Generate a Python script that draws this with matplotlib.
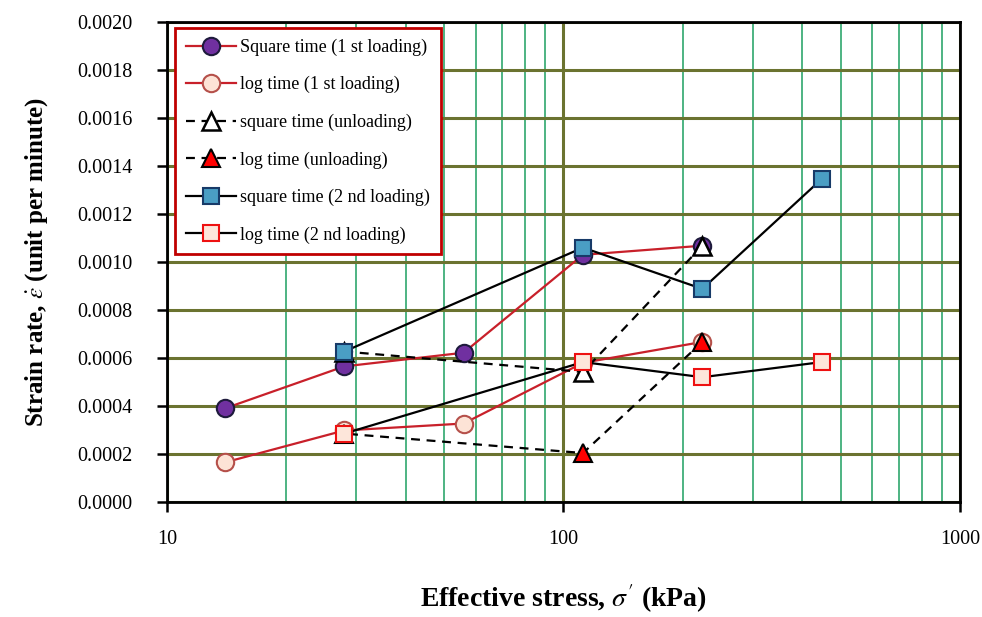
import matplotlib
matplotlib.use("Agg")
import matplotlib.pyplot as plt
from matplotlib.ticker import FixedLocator, NullFormatter, FormatStrFormatter

plt.rcParams["font.family"] = ["Liberation Serif", "DejaVu Serif"]
plt.rcParams["mathtext.fontset"] = "stix"

# effective stress (kPa) and strain rate (unit per minute)
stress_1st = [14, 28, 56, 112, 224]
sq_1st = [0.00039, 0.000565, 0.000622, 0.00103, 0.001068]
log_1st = [0.000165, 0.000298, 0.000327, 0.00058, 0.000667]

stress_unload = [224, 112, 28]
sq_unload = [0.001068, 0.000542, 0.000627]
log_unload = [0.000667, 0.000204, 0.000285]

stress_2nd = [28, 112, 224, 448]
sq_2nd = [0.000627, 0.00106, 0.000888, 0.001346]
log_2nd = [0.000285, 0.000583, 0.00052, 0.000583]

RED = "#c8202a"
OLIVE = "#6b7330"
GREEN = "#3fae78"

fig = plt.figure(figsize=(9.82, 6.17), dpi=100)
ax = fig.add_axes([0.170, 0.1864, 0.8076, 0.7779])

ms = 12.5
ax.plot(stress_1st, sq_1st, color=RED, lw=1.6, marker="o", ms=ms,
        mfc="#7030a0", mec="#1e1a3c", mew=1.5, label="Square time (1 st loading)", zorder=3)
ax.plot(stress_1st, log_1st, color=RED, lw=1.6, marker="o", ms=ms,
        mfc="#fde3d6", mec="#b5504a", mew=1.5, label="log time (1 st loading)", zorder=3)
ax.plot(stress_unload, sq_unload, color="black", lw=1.6, ls=(0, (4, 3)), marker="^", ms=ms,
        mfc="white", mec="black", mew=1.8, label="square time (unloading)", zorder=4)
ax.plot(stress_unload, log_unload, color="black", lw=1.6, ls=(0, (4, 3)), marker="^", ms=ms,
        mfc="#ff0000", mec="black", mew=1.5, label="log time (unloading)", zorder=4)
ax.plot(stress_2nd, sq_2nd, color="black", lw=1.6, marker="s", ms=11,
        mfc="#4a9ec4", mec="#173a68", mew=1.5, label="square time (2 nd loading)", zorder=5)
ax.plot(stress_2nd, log_2nd, color="black", lw=1.6, marker="s", ms=11,
        mfc="#fde6da", mec="#ee1111", mew=1.5, label="log time (2 nd loading)", zorder=5)

ax.set_xscale("log")
ax.set_xlim(10, 1000)
ax.set_ylim(0, 0.002)
ax.yaxis.set_major_locator(FixedLocator([i * 0.0002 for i in range(11)]))
ax.yaxis.set_major_formatter(FormatStrFormatter("%.4f"))
ax.xaxis.set_major_locator(FixedLocator([10, 100, 1000]))
ax.xaxis.set_major_formatter(FormatStrFormatter("%d"))
ax.xaxis.set_minor_locator(FixedLocator([k * d for d in (10, 100) for k in range(2, 10)]))
ax.xaxis.set_minor_formatter(NullFormatter())

ax.grid(axis="y", which="major", color=OLIVE, lw=2.2, zorder=0)
ax.grid(axis="x", which="major", color=OLIVE, lw=2.2, zorder=0)
ax.grid(axis="x", which="minor", color=GREEN, lw=1.3, zorder=0)
ax.set_axisbelow(True)

ax.tick_params(axis="both", which="major", direction="out", length=7, width=1.8,
               labelsize=14.5, color="black")
ax.tick_params(axis="x", which="major", pad=13)
ax.tick_params(axis="y", which="major", pad=18)
ax.tick_params(axis="x", which="minor", length=0)
for sp in ax.spines.values():
    sp.set_linewidth(2)
    sp.set_color("black")

ax.set_xlabel(r"Effective stress, $\sigma'$ (kPa)", fontsize=20, fontweight="bold")
ax.xaxis.set_label_coords(0.5, -0.168)
ax.set_ylabel(r"Strain rate, $\dot{\varepsilon}$ (unit per minute)", fontsize=18, fontweight="bold")
ax.yaxis.set_label_coords(-0.148, 0.5)

leg = ax.legend(loc="upper left", bbox_to_anchor=(0.010, 0.988), fontsize=13,
                frameon=True, fancybox=False, edgecolor="#c00000", handlelength=2.8,
                labelspacing=1.12, borderpad=0.6, handletextpad=0.2, borderaxespad=0)
leg.get_frame().set_linewidth(2)
leg.get_frame().set_alpha(1)

fig.savefig("out.png", dpi=100)
